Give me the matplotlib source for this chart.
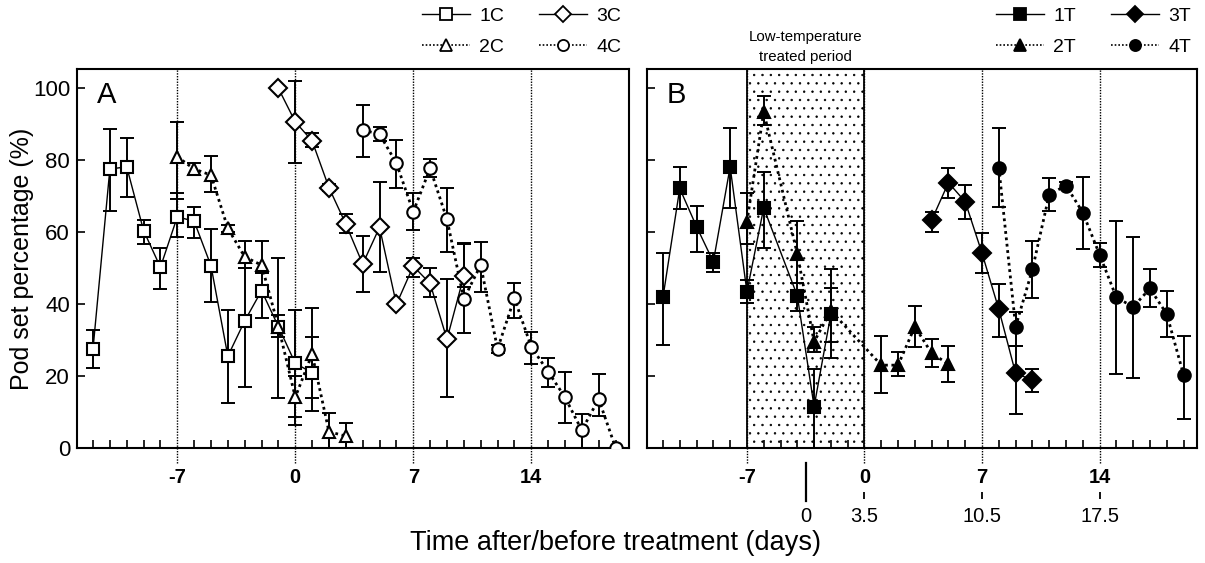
import matplotlib
matplotlib.use('Agg')
import matplotlib.pyplot as plt
import matplotlib.transforms as mtransforms
from matplotlib.lines import Line2D
from matplotlib.ticker import MultipleLocator
import numpy as np

plt.rcParams['font.family'] = ['Liberation Sans', 'DejaVu Sans']
plt.rcParams['hatch.linewidth'] = 0.5

# ---------------- data (panel A: control) ----------------
days_1C = [-12, -11, -10, -9, -8, -7, -6, -5, -4, -3, -2, -1, 0, 1]
val_1C = [27.6, 77.6, 78.2, 60.5, 50.3, 64.3, 63.1, 50.7, 25.6, 35.4, 43.8, 33.8, 23.6, 21.0]
up_1C = [5.3, 11.0, 7.9, 2.9, 5.4, 6.5, 4.0, 10.1, 12.8, 14.6, 4.8, 19.0, 14.8, 10.0]
lo_1C = [5.4, 11.7, 8.5, 3.6, 6.0, 5.5, 4.8, 10.0, 13.1, 18.3, 7.7, 19.9, 14.8, 10.6]

days_2C = [-7, -6, -5, -4, -3, -2, -1, 0, 1, 2, 3]
val_2C = [81.0, 77.6, 75.9, 61.1, 53.2, 50.9, 33.8, 14.2, 26.2, 4.6, 3.4]
up_2C = [9.7, 1.6, 5.4, 1.0, 4.5, 6.8, 3.2, 6.0, 12.7, 5.1, 3.7]
lo_2C = [11.6, 1.6, 4.8, 1.0, 3.2, 2.3, 2.8, 7.8, 12.3, 4.6, 3.4]

days_3C = [-1, 0, 1, 2, 3, 4, 5, 6, 7, 8, 9, 10]
val_3C = [100.0, 90.7, 85.4, 72.4, 62.3, 51.2, 61.4, 40.0, 50.6, 45.8, 30.3, 47.9]
up_3C = [0, 11.4, 2.3, 1.0, 2.7, 7.8, 12.7, 0, 2.4, 4.2, 16.6, 9.0]
lo_3C = [0, 11.4, 1.8, 1.0, 2.6, 7.9, 12.4, 0, 2.9, 3.9, 16.0, 3.0]

days_4C = [4, 5, 6, 7, 8, 9, 10, 11, 12, 13, 14, 15, 16, 17, 18, 19]
val_4C = [88.4, 87.3, 79.2, 65.7, 77.8, 63.6, 41.5, 50.9, 27.6, 41.7, 28.2, 21.3, 14.2, 5.0, 13.7, 0.2]
up_4C = [7.0, 2.0, 6.4, 5.1, 2.5, 8.8, 15.6, 6.3, 1.0, 4.3, 4.2, 3.9, 6.9, 4.5, 6.9, 0]
lo_4C = [7.4, 2.0, 7.0, 5.1, 2.4, 9.0, 9.4, 7.6, 1.0, 5.4, 4.8, 4.2, 7.1, 5.0, 4.7, 0]

# ---------------- data (panel B: low-temperature treated) ----------------
days_1T = [-12, -11, -10, -9, -8, -7, -6, -4, -3, -2]
val_1T = [41.9, 72.2, 61.6, 51.8, 78.2, 43.5, 66.8, 42.4, 11.6, 37.3]
up_1T = [12.5, 6.0, 5.8, 2.4, 10.9, 3.3, 10.0, 3.4, 10.3, 7.3]
lo_1T = [13.2, 5.7, 7.0, 2.9, 11.4, 3.2, 11.2, 4.2, 11.6, 7.7]

days_2T = [-7, -6, -4, -3, -2, 1, 2, 3, 4, 5]
val_2T = [62.9, 93.5, 54.0, 29.6, 38.2, 23.1, 23.1, 33.8, 26.4, 23.4]
up_2T = [8.1, 4.4, 9.1, 4.2, 11.6, 8.1, 3.6, 5.8, 3.9, 5.1]
lo_2T = [6.0, 3.7, 8.0, 2.8, 13.0, 7.6, 2.9, 5.6, 3.7, 4.9]

days_3T = [4, 5, 6, 7, 8, 9, 10]
val_3T = [63.4, 73.8, 68.5, 54.2, 38.6, 20.8, 19.0]
up_3T = [2.3, 4.0, 4.6, 5.5, 7.0, 7.7, 2.9]
lo_3T = [3.2, 4.2, 4.8, 5.4, 7.8, 11.3, 3.3]

days_4T = [8, 9, 10, 11, 12, 13, 14, 15, 16, 17, 18, 19]
val_4T = [78.0, 33.8, 49.7, 70.5, 73.0, 65.5, 53.8, 41.9, 39.3, 44.4, 37.3, 20.4]
up_4T = [11.1, 4.1, 8.0, 4.5, 1.0, 9.8, 3.3, 21.2, 19.5, 5.3, 6.4, 10.8]
lo_4T = [10.9, 5.3, 8.0, 4.6, 1.0, 10.2, 3.4, 21.3, 19.9, 5.2, 6.3, 12.3]

major_days = [-7, 0, 7, 14]
major_labels = ['-7', '0', '7', '14']
treat_start, treat_end = -7, 0
shift = 3.5  # offset of the lower (treatment) axis
sec_ticks = [0, 3.5, 10.5, 17.5]
sec_labels = ['0', '3.5', '10.5', '17.5']
y_ticks = [0, 20, 40, 60, 80, 100]

# ---------------- figure ----------------
W, H = 1205, 563
fig = plt.figure(figsize=(W / 100, H / 100), dpi=100)
axA = fig.add_axes([77 / W, 1 - 448.3 / H, 552 / W, 379 / H])
axB = fig.add_axes([647 / W, 1 - 448.3 / H, 550 / W, 379 / H])

XLIM = (-12.95, 19.8)
YLIM = (0, 105.3)

MS = 9


def draw(ax, days, vals, lo, up, marker, filled, dotted, ms=MS):
    d = np.array(days, float)
    v = np.array(vals, float)
    lo = np.array(lo, float)
    up = np.array(up, float)
    m = (lo + up) > 0
    ax.errorbar(d[m], v[m], yerr=[lo[m], up[m]], fmt='none', ecolor='black',
                elinewidth=1.4, capsize=4.7, capthick=1.4, zorder=3)
    if dotted:
        ax.plot(d, v, color='black', lw=2.0, ls=(0, (1, 1.3)), zorder=4)
    else:
        ax.plot(d, v, color='black', lw=1.0, ls='-', zorder=4)
    ax.plot(d, v, ls='none', marker=marker, ms=ms,
            mfc='black' if filled else 'white', mec='black', mew=1.5, zorder=5)


for ax in (axA, axB):
    ax.set_xlim(*XLIM)
    ax.set_ylim(*YLIM)
    for s in ax.spines.values():
        s.set_linewidth(1.5)
    ax.set_xticks(major_days)
    ax.set_xticklabels(major_labels, fontweight='bold')
    ax.tick_params(axis='x', which='major', length=0, pad=14, labelsize=14.5)
    ax.xaxis.set_minor_locator(MultipleLocator(1))
    ax.tick_params(axis='x', which='minor', direction='in', length=6, width=1.2)
    ax.set_yticks(y_ticks)
    for x in major_days:
        ax.axvline(x, ymin=-0.04, ymax=1, color='black', lw=1.0,
                   ls=(0, (1, 1)), clip_on=False, zorder=1)

axA.tick_params(axis='y', direction='in', length=6, width=1.2, labelsize=16, pad=5)
axB.tick_params(axis='y', direction='in', length=6, width=1.2, labelleft=False)

# shaded treatment period
axB.axvspan(treat_start, treat_end, facecolor='white', edgecolor='black',
            hatch='..', lw=1.3, zorder=0.8)

draw(axA, days_1C, val_1C, lo_1C, up_1C, 's', False, False)
draw(axA, days_2C, val_2C, lo_2C, up_2C, '^', False, True)
draw(axA, days_3C, val_3C, lo_3C, up_3C, 'D', False, False, ms=9.5)
draw(axA, days_4C, val_4C, lo_4C, up_4C, 'o', False, True)

draw(axB, days_1T, val_1T, lo_1T, up_1T, 's', True, False)
draw(axB, days_2T, val_2T, lo_2T, up_2T, '^', True, True)
draw(axB, days_3T, val_3T, lo_3T, up_3T, 'D', True, False, ms=9.5)
draw(axB, days_4T, val_4T, lo_4T, up_4T, 'o', True, True)

axA.text(0.036, 0.911, 'A', transform=axA.transAxes, fontsize=21, va='baseline', ha='left')
axB.text(0.036, 0.911, 'B', transform=axB.transAxes, fontsize=21, va='baseline', ha='left')

# secondary (treatment) axis
sec = axB.secondary_xaxis(-0.134, functions=(lambda x: x + shift, lambda x: x - shift))
sec.set_xticks(sec_ticks)
sec.set_xticklabels(sec_labels)
sec.spines['bottom'].set_visible(False)
sec.tick_params(axis='x', which='major', direction='in', length=5, width=1.3,
                labelsize=14.5, pad=6)
sec.xaxis.set_minor_locator(matplotlib.ticker.NullLocator())
trans = mtransforms.blended_transform_factory(axB.transData, axB.transAxes)
axB.plot([sec_ticks[0] - shift] * 2, [-0.039, -0.139], color='black', lw=1.6,
         transform=trans, clip_on=False)

axB.text((treat_start + treat_end) / 2, 1.015, 'Low-temperature\ntreated period',
         transform=trans, ha='center', va='bottom', fontsize=10.8, linespacing=1.5)

# labels
fig.text(22 / W, 1 - 258.5 / H, 'Pod set percentage (%)', rotation=90,
         ha='center', va='center', fontsize=18)
fig.text(615 / W, 1 - 543 / H, 'Time after/before treatment (days)',
         ha='center', va='center', fontsize=19.5)


def handle(marker, filled, dotted):
    return Line2D([], [], color='black', lw=1.0 if not dotted else 1.2,
                  ls=(0, (1, 1.2)) if dotted else '-', marker=marker, ms=8,
                  mfc='black' if filled else 'white', mec='black', mew=1.3)


hA = [handle('s', False, False), handle('^', False, True),
      handle('D', False, False), handle('o', False, True)]
hB = [handle('s', True, False), handle('^', True, True),
      handle('D', True, False), handle('o', True, True)]
leg_kw = dict(ncol=2, loc='upper left', frameon=False, fontsize=14,
              handlelength=2.45, handletextpad=0.5, columnspacing=1.8,
              labelspacing=0.7, borderpad=0, borderaxespad=0)
fig.legend(hA, ['1C', '2C', '3C', '4C'], bbox_to_anchor=(422 / W, 1 - 7 / H), **leg_kw)
fig.legend(hB, ['1T', '2T', '3T', '4T'], bbox_to_anchor=(996 / W, 1 - 7 / H), **leg_kw)

fig.savefig('out.png', dpi=100)
